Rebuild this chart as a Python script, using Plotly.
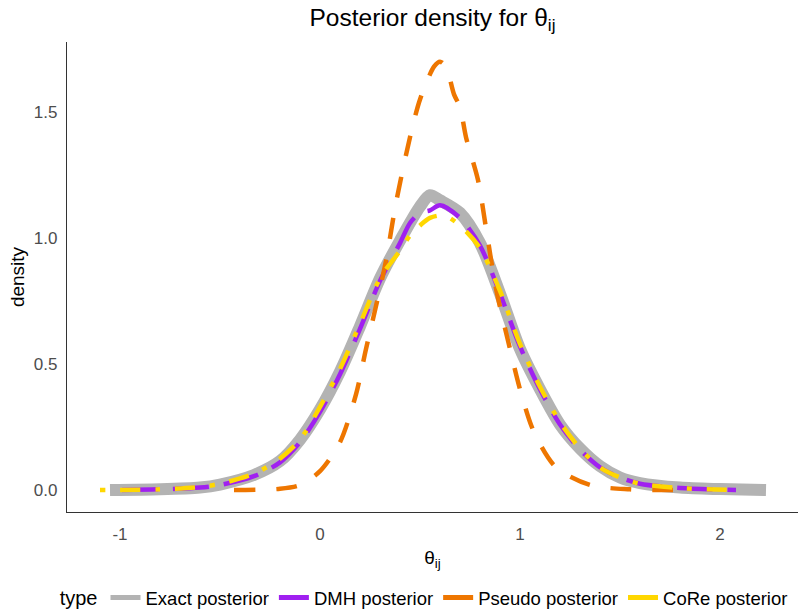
import plotly.graph_objects as go

# ---- data ----
series_names = ["Exact posterior", "DMH posterior", "Pseudo posterior", "CoRe posterior"]

exact_x = [-1.05, -0.8, -0.6, -0.5, -0.33, -0.2, -0.1, 0.0, 0.1, 0.2, 0.3, 0.4, 0.5, 0.55,
           0.6, 0.7, 0.8, 0.9, 1.0, 1.1, 1.2, 1.3, 1.4, 1.5, 1.6, 1.8, 2.0, 2.23]
exact_y = [0.0, 0.003, 0.01, 0.022, 0.06, 0.115, 0.2, 0.32, 0.47, 0.65, 0.84, 0.99, 1.125, 1.17,
           1.15, 1.1, 0.98, 0.78, 0.56, 0.4, 0.26, 0.165, 0.095, 0.05, 0.028, 0.01, 0.004, 0.0]

dmh_x = [-0.99, -0.8, -0.6, -0.5, -0.33, -0.2, -0.1, 0.0, 0.1, 0.2, 0.3, 0.4, 0.45, 0.5, 0.55,
         0.6, 0.7, 0.8, 0.9, 1.0, 1.1, 1.2, 1.3, 1.4, 1.5, 1.6, 1.8, 2.08]
dmh_y = [0.0, 0.003, 0.01, 0.02, 0.055, 0.11, 0.19, 0.31, 0.46, 0.64, 0.83, 0.98, 1.06, 1.1, 1.11,
         1.13, 1.08, 0.97, 0.78, 0.57, 0.4, 0.26, 0.16, 0.09, 0.05, 0.025, 0.008, 0.0]

pseudo_x = [-0.43, -0.2, -0.1, 0.0, 0.1, 0.18, 0.23, 0.28, 0.33, 0.38, 0.45, 0.5, 0.57, 0.6,
            0.63, 0.67, 0.7, 0.73, 0.79, 0.83, 0.88, 0.95, 1.0, 1.07, 1.18, 1.35, 1.55, 1.83]
pseudo_y = [0.0, 0.005, 0.02, 0.075, 0.19, 0.38, 0.56, 0.73, 0.91, 1.14, 1.4, 1.55, 1.68, 1.7,
            1.68, 1.57, 1.52, 1.4, 1.23, 1.04, 0.8, 0.56, 0.4, 0.23, 0.09, 0.02, 0.003, 0.0]

core_x = [-1.1, -0.8, -0.6, -0.5, -0.33, -0.2, -0.1, 0.0, 0.1, 0.2, 0.3, 0.4, 0.45, 0.5, 0.55,
          0.62, 0.7, 0.8, 0.9, 1.0, 1.1, 1.2, 1.3, 1.4, 1.5, 1.6, 1.8, 2.1]
core_y = [0.0, 0.003, 0.012, 0.025, 0.065, 0.125, 0.2, 0.33, 0.48, 0.66, 0.84, 0.95, 1.01, 1.05, 1.08,
          1.09, 1.05, 0.96, 0.79, 0.58, 0.41, 0.27, 0.165, 0.09, 0.05, 0.025, 0.008, 0.0]

x_tick_vals = [-1, 0, 1, 2]
x_tick_text = ["-1", "0", "1", "2"]
y_tick_vals = [0.0, 0.5, 1.0, 1.5]
y_tick_text = ["0.0", "0.5", "1.0", "1.5"]

# ---- styles ----
colors = ["#b3b3b3", "#a020f0", "#ee7600", "#ffd700"]
widths = [12, 4.5, 4.5, 4.5]
dashes = ["solid", "36px,15px", "21px,21px", "5px,15px,20px,15px"]
xs = [exact_x, dmh_x, pseudo_x, core_x]
ys = [exact_y, dmh_y, pseudo_y, core_y]

FONT = "Liberation Sans, Arial, Helvetica, sans-serif"

fig = go.Figure()
for name, x, y, c, w, d in zip(series_names, xs, ys, colors, widths, dashes):
    fig.add_trace(go.Scatter(
        x=x, y=y, mode="lines", name=name, showlegend=False,
        line=dict(color=c, width=w, dash=d, shape="spline", smoothing=0.8),
        hoverinfo="skip",
    ))
# legend keys (solid short lines like ggplot keys)
for name, c in zip(series_names, colors):
    fig.add_trace(go.Scatter(
        x=[None], y=[None], mode="lines", name=name, showlegend=True,
        line=dict(color=c, width=5),
    ))

fig.update_layout(
    width=800, height=613,
    margin=dict(l=67, r=2, t=42, b=101, autoexpand=False),
    paper_bgcolor="white", plot_bgcolor="white",
    font=dict(family=FONT, color="black"),
    title=dict(
        text="Posterior density for θ<sub>ij</sub>",
        x=0.5, xref="paper", xanchor="center",
        y=1 - 17 / 613, yref="container", yanchor="middle",
        font=dict(size=24.5, color="black"),
    ),
    xaxis=dict(
        range=[-1.265, 2.39], showgrid=False, zeroline=False, automargin=False,
        showline=True, linecolor="#333333", linewidth=1.3,
        tickvals=x_tick_vals, ticktext=x_tick_text, ticks="",
        tickfont=dict(size=17, color="#4d4d4d"), ticklabelstandoff=6,
        title=dict(text="θ<sub>ij</sub>", font=dict(size=19, color="black"), standoff=8),
    ),
    yaxis=dict(
        range=[-0.087, 1.778], showgrid=False, zeroline=False, automargin=False,
        showline=True, linecolor="#333333", linewidth=1.3,
        tickvals=y_tick_vals, ticktext=y_tick_text, ticks="",
        tickfont=dict(size=17, color="#4d4d4d"), ticklabelstandoff=5,
        title=dict(text="density", font=dict(size=19, color="black"), standoff=4),
    ),
    legend=dict(
        orientation="h", x=0.49, xanchor="center", xref="paper",
        y=1 - 598 / 613, yref="container", yanchor="middle",
        title=dict(text="type", side="left", font=dict(size=20, color="black")),
        font=dict(size=18.5, color="black"),
        itemwidth=30, tracegroupgap=0,
        bgcolor="rgba(0,0,0,0)",
    ),
)

fig.write_html("out.html")
